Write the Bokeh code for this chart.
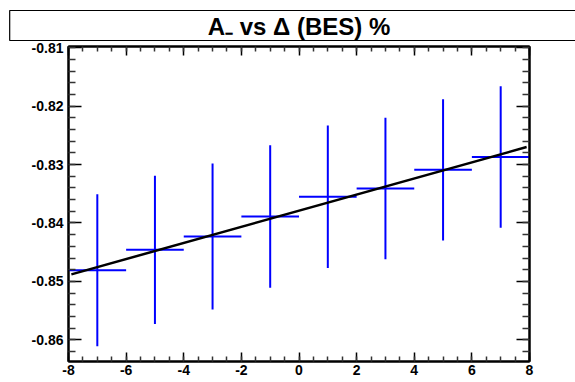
from bokeh.plotting import figure
from bokeh.models import Range1d, FixedTicker, LinearAxis
from bokeh.embed import file_html
from bokeh.resources import INLINE

# ---- data ----
x_centers = [-7, -5, -3, -1, 1, 3, 5, 7]
x_halfwidth = [1, 1, 1, 1, 1, 1, 1, 1]
y_values = [-0.8481, -0.8446, -0.8423, -0.8389, -0.8355, -0.8341, -0.8309, -0.8287]
y_errors = [0.0130, 0.0127, 0.0125, 0.0122, 0.0122, 0.0121, 0.0121, 0.0121]
fit_x = [-7.9, 7.9]
fit_y = [-0.8488, -0.8270]
x_ticks = [-8, -6, -4, -2, 0, 2, 4, 6, 8]
x_tick_labels = ["-8", "-6", "-4", "-2", "0", "2", "4", "6", "8"]
y_ticks = [-0.86, -0.85, -0.84, -0.83, -0.82, -0.81]
y_tick_labels = ["-0.86", "-0.85", "-0.84", "-0.83", "-0.82", "-0.81"]
title_text = "A₋ vs Δ (BES) %"

FONT = "Liberation Sans"
W, H = 575, 382

p = figure(width=W, height=H, x_range=Range1d(-8, 8), y_range=Range1d(-0.86372, -0.80978),
           output_backend="svg", toolbar_location=None, x_axis_location=None,
           y_axis_location=None, min_border_left=68, min_border_right=46,
           min_border_top=46, min_border_bottom=21, title=title_text)
p.grid.visible = False
p.outline_line_color = "black"
p.outline_line_width = 2

p.title.align = "center"
p.title.text_font = FONT
p.title.text_font_style = "bold"
p.title.text_font_size = "24px"
p.title.text_color = "black"
p.title.background_fill_color = "white"
p.title.border_line_color = "black"
p.title.border_line_width = 1.2
p.title.padding = dict(left=198, right=198, top=2, bottom=1)
p.title.standoff = 12
p.title.offset = 0

x_minor = [v / 2 for v in range(-16, 17)]
y_minor = [round(-0.864 + 0.002 * i, 3) for i in range(0, 28)]
xt = FixedTicker(ticks=x_ticks, minor_ticks=x_minor)
yt = FixedTicker(ticks=y_ticks, minor_ticks=y_minor)


def style(ax, labels, ticker, major_len, minor_len):
    ax.ticker = ticker
    ax.axis_line_color = "black"
    ax.axis_line_width = 2
    ax.major_tick_in = major_len
    ax.major_tick_out = 0
    ax.minor_tick_in = minor_len
    ax.minor_tick_out = 0
    ax.major_tick_line_color = "black"
    ax.major_tick_line_width = 1.5
    ax.minor_tick_line_color = "#333333"
    ax.minor_tick_line_width = 1.5
    ax.major_label_text_font = FONT
    ax.major_label_text_font_style = "bold"
    ax.major_label_text_font_size = "14px"
    ax.major_label_text_color = "black"
    if labels is None:
        ax.major_label_text_color = None
        ax.major_label_text_font_size = "0px"
    else:
        ax.major_label_overrides = {tk: lb for tk, lb in zip(ticker.ticks, labels)}


bx = LinearAxis()
style(bx, x_tick_labels, xt, 9, 5)
bx.major_label_standoff = 3
p.add_layout(bx, "below")
tx = LinearAxis()
style(tx, None, xt, 9, 5)
tx.major_label_standoff = 0
p.add_layout(tx, "above")
ly = LinearAxis()
style(ly, y_tick_labels, yt, 13, 7)
ly.major_label_standoff = 5
p.add_layout(ly, "left")
ry = LinearAxis()
style(ry, None, yt, 13, 7)
ry.major_label_standoff = 0
p.add_layout(ry, "right")

x0 = [xc - h for xc, h in zip(x_centers, x_halfwidth)]
x1 = [xc + h for xc, h in zip(x_centers, x_halfwidth)]
ylo = [yv - e for yv, e in zip(y_values, y_errors)]
yhi = [yv + e for yv, e in zip(y_values, y_errors)]
p.segment(x0=x0, y0=y_values, x1=x1, y1=y_values, line_color="#0000ff", line_width=2)
p.segment(x0=x_centers, y0=ylo, x1=x_centers, y1=yhi, line_color="#0000ff", line_width=2)
p.line(fit_x, fit_y, line_color="black", line_width=2.5)

open("out.html", "w").write(file_html(p, INLINE))
